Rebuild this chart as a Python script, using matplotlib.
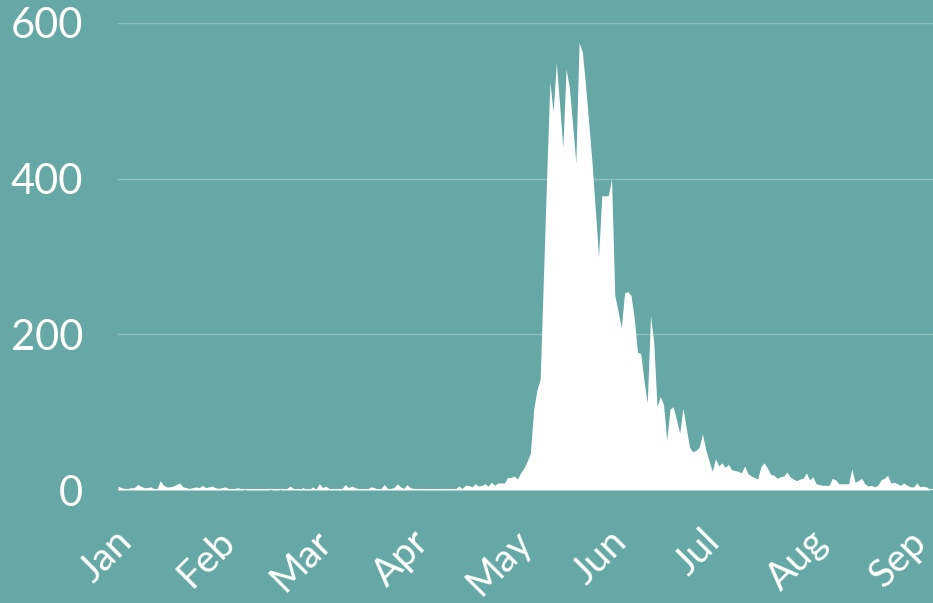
# Daily counts, Jan - early Sep, white area on teal
import pandas as pd
import matplotlib
matplotlib.use("Agg")
import matplotlib.pyplot as plt
from matplotlib.transforms import ScaledTranslation

BG = "#65a8a5"
GRID = "#8cc1bd"

start_date = "2020-01-01"

# one value per day
daily_values = [
    5, 3, 2, 2, 3, 3, 7, 5, 3, 3,
    4, 2, 1, 12, 6, 4, 4, 5, 7, 9,
    4, 3, 2, 3, 4, 3, 6, 3, 4, 5,
    3, 2, 3, 4, 2, 1, 2, 3, 1, 0,
    1, 1, 2, 1, 1, 1, 1, 0, 1, 1,
    0, 1, 2, 5, 2, 1, 1, 3, 1, 1,
    4, 1, 8, 3, 5, 2, 1, 1, 2, 2,
    7, 3, 5, 3, 2, 1, 1, 2, 4, 3,
    1, 2, 7, 2, 2, 3, 8, 4, 2, 7,
    3, 2, 2, 2, 2, 1, 1, 1, 2, 1,
    1, 2, 2, 1, 2, 5, 2, 6, 6, 4,
    8, 5, 6, 8, 5, 10, 6, 9, 9, 9,
    16, 16, 18, 14, 22, 28, 37, 47, 103, 128,
    142, 270, 400, 524, 486, 549, 495, 440, 541, 517,
    470, 420, 575, 563, 520, 470, 420, 360, 300, 378,
    378, 378, 400, 250, 230, 208, 253, 255, 250, 220,
    177, 175, 140, 112, 224, 190, 107, 120, 110, 64,
    104, 107, 90, 73, 105, 80, 55, 49, 51, 55,
    72, 52, 38, 24, 40, 31, 35, 29, 33, 26,
    25, 24, 22, 31, 21, 18, 16, 14, 30, 35,
    28, 20, 19, 15, 17, 18, 23, 17, 14, 12,
    14, 15, 22, 13, 17, 8, 7, 6, 6, 6,
    15, 13, 8, 8, 8, 8, 27, 10, 12, 15,
    8, 5, 6, 4, 6, 13, 15, 19, 9, 10,
    8, 6, 9, 6, 4, 4, 9, 4, 5, 4,
    1,
]

y_ticks = [0, 200, 400, 600]
month_labels = ["Jan", "Feb", "Mar", "Apr", "May", "Jun", "Jul", "Aug", "Sep"]

dates = pd.date_range(start_date, periods=len(daily_values), freq="D")
month_starts = pd.date_range(start_date, periods=len(month_labels), freq="MS")

plt.rcParams["font.family"] = ["Lato", "DejaVu Sans"]

fig = plt.figure(figsize=(9.33, 6.03), dpi=100, facecolor=BG)
ax = fig.add_axes([118 / 933, 1 - 490 / 603, 1 - 118 / 933, (490 - 23) / 603])
ax.set_facecolor(BG)

ax.fill_between(dates, daily_values, 0, color="white", lw=0)
ax.axhline(0, color="white", lw=1.5, zorder=3)

ax.set_ylim(0, 600)
ax.set_xlim(dates[0], dates[-1] + pd.Timedelta(days=1))

ax.set_yticks(y_ticks)
ax.set_yticklabels([str(v) for v in y_ticks])
ax.set_xticks(month_starts)
ax.set_xticklabels(month_labels, rotation=45, ha="center")

ax.grid(axis="y", color=GRID, lw=1)
ax.set_axisbelow(True)
ax.tick_params(axis="y", length=0, colors="white", labelsize=30, pad=25)
ax.tick_params(axis="x", length=0, colors="white", labelsize=28, pad=24)
for lbl in ax.get_xticklabels():
    lbl.set_transform(lbl.get_transform() + ScaledTranslation(-12 / 100, 0, fig.dpi_scale_trans))

for s in ax.spines.values():
    s.set_visible(False)

plt.savefig("out.png", dpi=100, facecolor=BG)
